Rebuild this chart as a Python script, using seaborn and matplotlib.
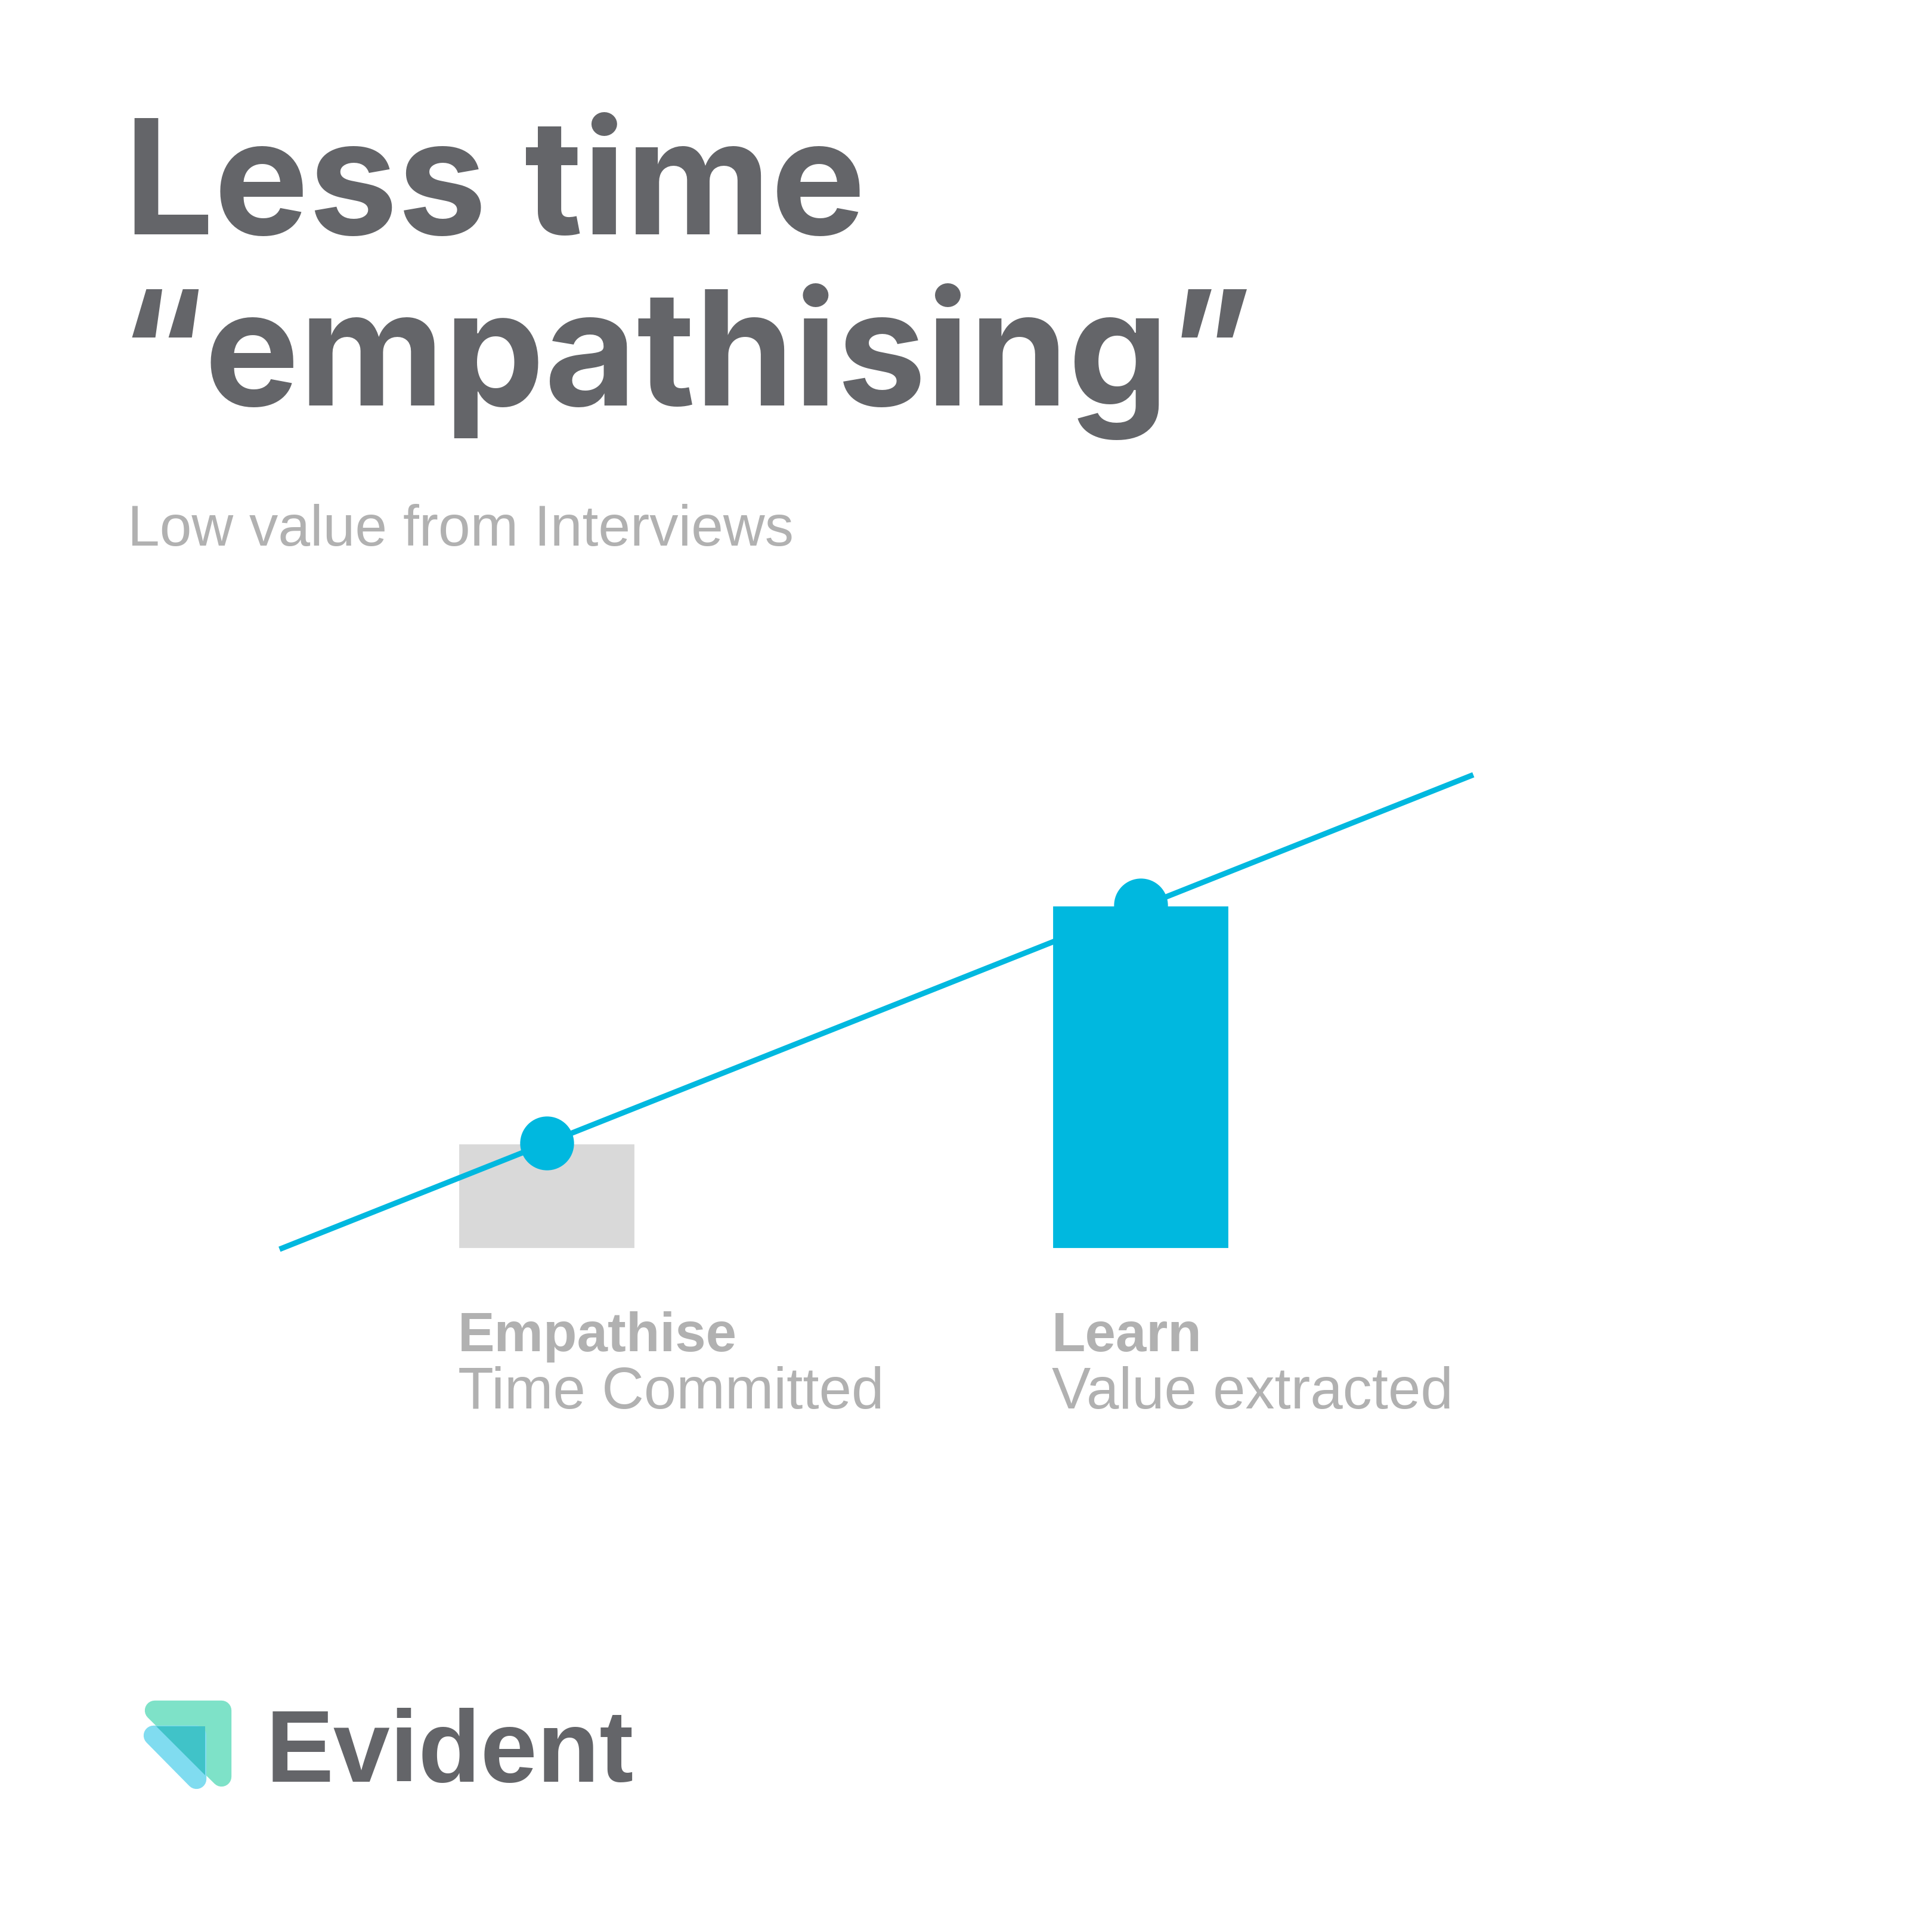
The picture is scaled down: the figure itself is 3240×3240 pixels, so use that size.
import numpy as np
import pandas as pd
import seaborn as sns
import matplotlib.pyplot as plt
from matplotlib.patches import Polygon

# Chart values
stages = ['Empathise', 'Learn']
stage_notes = ['Time Committed', 'Value extracted']
stage_values = [1.0, 3.24]
trend_x = [-0.45, 1.56]
trend_y = [0.0, 4.47]

title_lines = ['Less time', '\u201cempathising\u201d']
subtitle = 'Low value from Interviews'
brand = 'Evident'

# Colours
dark_grey = '#646569'
light_grey = '#b1b1b1'
bar_grey = '#d9d9d9'
blue = '#00b8df'

sns.set_theme(style='white')
plt.rcParams['font.family'] = ['Inter', 'DejaVu Sans']

W = 3240
fig = plt.figure(figsize=(10.8, 10.8), dpi=300)
fig.patch.set_facecolor('white')

def fx(px):
    return px / W

def fy(py):
    return 1 - py / W

# Plot area: bar baseline at y=2095px, x=0 at 917px, 996px per category
base_px, top_px = 2095, 1200
ax = fig.add_axes([0, fy(base_px), 1, (base_px - top_px) / W])
df = pd.DataFrame({'stage': stages, 'value': stage_values})
sns.barplot(data=df, x='stage', y='value', hue='stage',
            palette=[bar_grey, blue], width=0.3, saturation=1,
            legend=False, ax=ax, zorder=2)
sns.lineplot(x=trend_x, y=trend_y, color=blue, linewidth=2.2, sort=False,
             ax=ax, zorder=3, solid_capstyle='butt')
sns.scatterplot(x=[0, 1], y=stage_values, color=blue, s=470, linewidth=0,
                ax=ax, zorder=4)
ax.set_xlim(-917 / 996, (W - 917) / 996)
ax.set_ylim(0, (base_px - top_px) / 178)
ax.axis('off')
for c in ax.collections:
    c.set_clip_on(False)
for l in ax.lines:
    l.set_clip_on(False)

# Category labels under the bars
for i, (name, note) in enumerate(zip(stages, stage_notes)):
    ax.annotate(name, xy=(i - 0.15, W - 2266), xycoords=('data', 'figure pixels'),
                ha='left', va='baseline', fontsize=22.2, fontweight='bold',
                color=light_grey, family=['Liberation Sans', 'DejaVu Sans'])
    ax.annotate(note, xy=(i - 0.15, W - 2362), xycoords=('data', 'figure pixels'),
                ha='left', va='baseline', fontsize=23.5,
                color=light_grey, family=['Liberation Sans', 'DejaVu Sans'])

# Title and subtitle
fig.text(fx(208), fy(393), title_lines[0], ha='left', va='baseline',
         fontsize=64, fontweight='bold', color=dark_grey)
fig.text(fx(200), fy(680), title_lines[1], ha='left', va='baseline',
         fontsize=64, fontweight='bold', color=dark_grey)
fig.text(fx(214), fy(915), subtitle, ha='left', va='baseline',
         fontsize=23.2, color=light_grey, family=['Liberation Sans', 'DejaVu Sans'])

# Logo mark
def add_poly(pts, color, lw):
    p = Polygon([(fx(x), fy(y)) for x, y in pts], closed=True,
                transform=fig.transFigure, facecolor=color, edgecolor=color,
                linewidth=lw, joinstyle='round')
    fig.add_artist(p)
    return p

add_poly([(259, 2868), (371, 2868), (371, 2979)], '#7ee2c8', 8)
add_poly([(257, 2910), (329, 2910), (329, 2983)], '#80dcf0', 8)
add_poly([(262, 2895), (344, 2895), (344, 2977)], '#40c3c8', 0)

fig.text(fx(446), fy(2988), brand, ha='left', va='baseline',
         fontsize=41, fontweight='bold', color=dark_grey,
         family=['Liberation Sans', 'DejaVu Sans'])

fig.savefig('out.png', dpi=300, facecolor='white')
